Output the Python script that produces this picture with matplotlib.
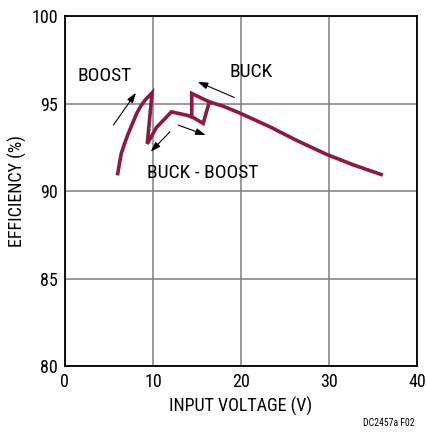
import numpy as np
import matplotlib
matplotlib.use("Agg")
import matplotlib.pyplot as plt
from matplotlib import font_manager

# data (input voltage V, efficiency %)
main_v = [6.0, 6.2, 6.4, 6.8, 7.2, 7.7, 8.15, 8.6, 9.1, 9.9, 9.35, 10.4, 12.1, 13.8, 14.4,
          15.7, 16.4, 18.0, 19.9, 23.3, 26.3, 29.7, 32.75, 35.9]
main_eff = [91.0, 91.6, 92.15, 92.75, 93.3, 93.9, 94.44, 94.85, 95.2, 95.62, 92.7, 93.64, 94.53,
            94.34, 94.25, 93.87, 95.1, 94.85, 94.45, 93.67, 92.9, 92.1, 91.5, 90.95]
# hysteresis edge going back down from buck to buck-boost
loop_v = [14.4, 14.4, 16.4]
loop_eff = [94.25, 95.58, 95.1]

# arrows: (start V, start eff, end V, end eff)
arrows = [
    (5.5, 93.77, 8.07, 95.62),
    (11.93, 93.39, 9.74, 92.25),
    (12.88, 93.77, 15.98, 93.2),
    (19.24, 95.35, 15.08, 96.25),
]
labels = [("BOOST", 4.5, 96.6), ("BUCK", 21.2, 96.82), ("BUCK - BOOST", 15.6, 91.05)]

names = {f.name for f in font_manager.fontManager.ttflist}
fam = 'DejaVu Sans'
for cand in ['Liberation Sans Narrow', 'Roboto Condensed', 'Arial Narrow', 'Liberation Sans']:
    if cand in names:
        fam = cand
        break
plt.rcParams['font.family'] = [fam, 'DejaVu Sans']
fs = 12 if fam == 'Liberation Sans' else 13

red = '#8c1a3c'

fig = plt.figure(figsize=(4.27, 4.37), dpi=100)
ax = fig.add_axes([0.152, 0.1625, 0.825, 0.8005])

ax.plot(main_v, main_eff, color=red, lw=2.6, solid_joinstyle='miter', zorder=3)
ax.plot(loop_v, loop_eff, color=red, lw=2.6, solid_joinstyle='miter', zorder=3)

for x0, y0, x1, y1 in arrows:
    ax.annotate("", xy=(x1, y1), xytext=(x0, y0),
                arrowprops=dict(arrowstyle='-|>,head_length=0.6,head_width=0.2',
                                color='black', lw=0.8, shrinkA=0, shrinkB=0))

for txt, x, y in labels:
    ax.text(x, y, txt, ha='center', va='center', fontsize=fs + 1)

ax.set_xlim(0, 40)
ax.set_ylim(80, 100)
ax.set_xticks([0, 10, 20, 30, 40])
ax.set_yticks([80, 85, 90, 95, 100])
ax.grid(True, color='#7f7f7f', lw=1.1)
ax.tick_params(length=0, labelsize=fs, pad=5)
for s in ax.spines.values():
    s.set_linewidth(1.3)
ax.set_xlabel("INPUT VOLTAGE (V)", fontsize=fs, labelpad=4)
ax.set_ylabel("EFFICIENCY (%)", fontsize=fs, labelpad=3)

fig.text(0.972, 0.02, "DC2457a F02", ha='right', va='bottom', fontsize=7)

fig.savefig("out.png", dpi=100)
